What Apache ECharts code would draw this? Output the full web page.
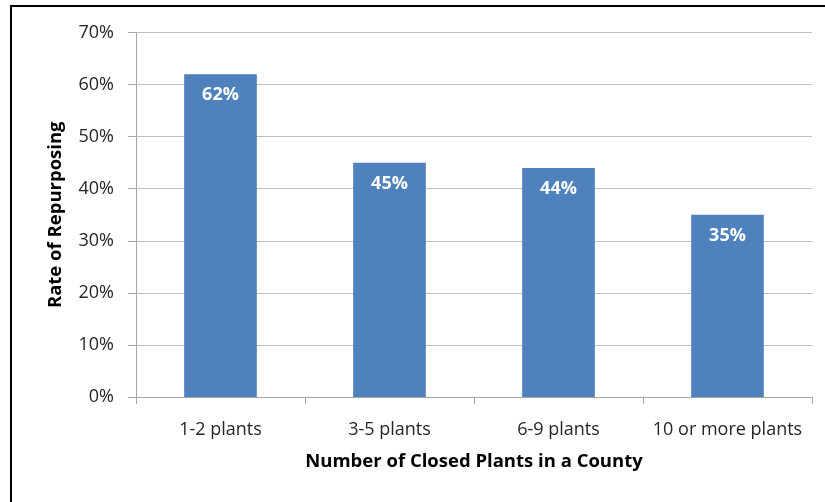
<!DOCTYPE html>
<html><head><meta charset="utf-8">
<script src="https://cdn.jsdelivr.net/npm/echarts@6/dist/echarts.min.js"></script>
<style>
html,body{margin:0;padding:0;background:#fff;}
#frame{position:absolute;left:10px;top:5px;width:830px;height:520px;border:2px solid #000;box-sizing:border-box;}
#c{position:absolute;left:0;top:0;width:825px;height:502px;}
</style></head>
<body>
<div id="frame"></div>
<div id="c"></div>
<script>
const categories = ["1-2 plants", "3-5 plants", "6-9 plants", "10 or more plants"];
const values = [62, 45, 44, 35];
const yTicks = [0, 10, 20, 30, 40, 50, 60, 70];
const font = "'Open Sans', 'Noto Sans', sans-serif";
const chart = echarts.init(document.getElementById('c'), null, {renderer: 'canvas'});
chart.setOption({
  animation: false,
  grid: {left: 136, right: 13, top: 32.5, bottom: 105, containLabel: false},
  xAxis: {
    type: 'category', data: categories,
    name: 'Number of Closed Plants in a County', nameLocation: 'middle', nameGap: 55,
    nameTextStyle: {fontFamily: font, fontWeight: 'bold', fontSize: 18.5, color: '#000'},
    axisLine: {lineStyle: {color: '#a6a6a6', width: 1}},
    axisTick: {show: true, length: 7, lineStyle: {color: '#a6a6a6'}},
    axisLabel: {interval: 0, fontFamily: font, fontSize: 18, color: '#262626', margin: 24}
  },
  yAxis: {
    type: 'value', min: yTicks[0], max: yTicks[yTicks.length-1], interval: 10,
    name: 'Rate of Repurposing', nameLocation: 'middle', nameGap: 71,
    nameTextStyle: {fontFamily: font, fontWeight: 'bold', fontSize: 18.5, color: '#000'},
    axisLine: {show: true, lineStyle: {color: '#a6a6a6'}},
    axisTick: {show: true, length: 8, inside: false, lineStyle: {color: '#a6a6a6'}},
    axisLabel: {fontFamily: font, fontSize: 18, color: '#262626', margin: 22, formatter: v => v + '%'},
    splitLine: {lineStyle: {color: '#bfbfbf', width: 1}}
  },
  series: [{
    type: 'bar', data: values, barWidth: '43%',
    itemStyle: {color: '#4f81bd'},
    label: {show: true, position: 'insideTop', distance: 12, formatter: p => p.value + '%',
      color: '#fff', fontWeight: 'bold', fontFamily: font, fontSize: 18}
  }]
});
</script>
</body></html>
